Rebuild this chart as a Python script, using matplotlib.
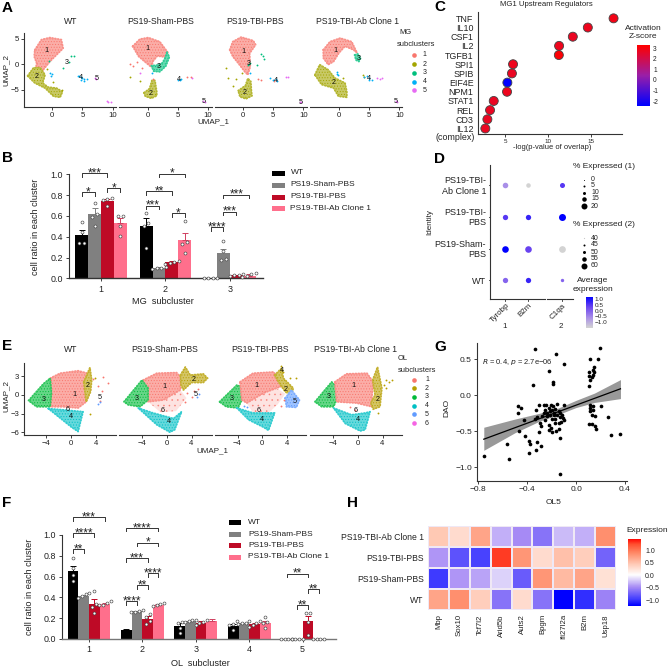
import numpy as np
import matplotlib
matplotlib.use('Agg')
import matplotlib.pyplot as plt
from matplotlib.colors import LinearSegmentedColormap, TwoSlopeNorm, Normalize, to_rgb
from matplotlib.patches import Rectangle

plt.rcParams['font.family'] = ['Liberation Sans', 'DejaVu Sans']
plt.rcParams['hatch.linewidth'] = 0.4

W, H = 669, 667
FS = 6.2
DARK = '#222222'

# ---------- data ----------
group_names = ['WT', 'PS19-Sham-PBS', 'PS19-TBI-PBS', 'PS19-TBI-Ab Clone 1']
bar_colors = ['#000000', '#808080', '#BE0A26', '#FF6F8C']
mg_colors = ['#F8766D', '#A3A500', '#00BF7D', '#00B0F6', '#E76BF3']
ol_colors = ['#F8766D', '#B79F00', '#00BA38', '#00BFC4', '#619CFF', '#F564E3']

# A: MG UMAP, cluster outlines and stray cells
mg_wt = {1: [(-2.9, 2.8), (-1.8, 4.8), (-.4, 5.2), (1.5, 4.8), (1.8, 3.1), (.7, 1.8), (-.4, .5), (-1.5, -1.1), (-2, -2.7), (-2.9, -2.4), (-2.6, .2), (-3, 1.5)],
         2: [(-4.1, -2.3), (-3.1, -.7), (-2, -.7), (-1.2, -2.1), (-1.6, -3.7), (-.7, -4.5), (.7, -4.7), (1.7, -5.4), (1.3, -6.5), (.2, -6.3), (-1.2, -4.7), (-2.9, -3.7)]}
mg_wt_pts = {2: [(-.9, -1), (.1, -3.5), (1.6, -5)], 3: [(3.1, 1.5), (3.6, 1.6), (2.7, .5), (1.7, -.8), (-.5, .7)],
             4: [(4.2, -2.4), (4.5, -2.3), (4.7, -2.6), (5, -2.8), (5.3, -3), (5.7, -2.9), (4.8, -3.2), (5.2, -3.4), (-.1, -2), (-.2, -2.3), (-.4, -1.7)],
             5: [(7.1, -2.8), (7.3, -3), (9, -7.3), (9.3, -7.5), (9.7, -7.4)]}
mg_wt_lab = [(1, -1, 2.7), (2, -2.65, -2.5), (3, 2.4, .3), (4, 4.75, -2.7), (5, 7.35, -2.9)]

mg_sham = {1: [(-2.5, 3.5), (-1.3, 4.9), (.1, 5.2), (2, 4.4), (3.4, 2.2), (2.8, 1.4), (1.6, 1.6), (.9, .6), (.6, -.6), (-.2, .2), (-1.5, 1.5)],
           3: [(3.2, 2.3), (3.6, 1.4), (3, -.4), (2, -1.5), (1, -1.4), (.6, -.3), (1.6, -.2), (2.4, .2), (2.8, 1)],
           2: [(-.6, -5.6), (.3, -4.8), (.7, -3.2), (1.2, -3.2), (1.5, -5.4), (1.5, -6.2), (.6, -6.7), (-.4, -6.3)]}
mg_sham_pts = {1: [(-3, .1), (-2.5, -.3), (-1.7, .4), (-1, -.7), (.9, -3), (6.6, -2.6), (7.1, -2.6)],
               2: [(-2.9, -2.6), (-1.2, -3.4)], 4: [(5, -3.1), (5.3, -3.2), (5.5, -3), (.7, -1.8)],
               5: [(-1.2, -1.7), (7.3, -2.7), (9.1, -7.3), (9.5, -7.4)]}
mg_sham_lab = [(1, -.1, 3.1), (2, .55, -5.8), (3, 1.8, -.5), (4, 5.2, -3.1), (5, 9.3, -7.4)]

mg_tbi = {1: [(-2.2, 2.8), (-1.7, 4.4), (-.3, 5.3), (1.7, 4.6), (2.1, 3.8), (1.1, 2.1), (1.2, -.5), (.8, -2.1), (.3, -1.5), (-.8, .2), (-1.7, 1.5)],
          2: [(-.8, -5.2), (.4, -4.2), (.8, -2.8), (1.3, -3.4), (1.4, -5.4), (1.5, -6.2), (.5, -6.8), (-.5, -6.4)]}
mg_tbi_pts = {1: [(2.5, -3), (3, -3.1), (5.2, -3.4)], 2: [(-2.8, -.8), (-2.5, -2.7), (-1.7, -4.3), (-1.1, -3), (-.2, -1.8)],
              3: [(3.3, 1.5), (3, 2), (3.5, 1), (2.4, -.2), (1, .1), (.8, -.2), (1.2, .3)],
              4: [(4.4, -2.8), (5, -3.2), (5.4, -3), (5.6, -3.4), (1.2, -1.7)], 5: [(7.2, -2.6), (7.4, -2.5), (9.4, -7.4), (9.7, -7.5)]}
mg_tbi_lab = [(1, 0, 2.5), (2, .3, -5.5), (3, 1, .1), (4, 5.4, -3.2), (5, 9.6, -7.5)]

mg_ab = {1: [(-2.6, 2.8), (-1.5, 4.4), (.2, 5.1), (2.1, 4.4), (3, 2.2), (2.4, 2.8), (1, 3.5), (0, 2.2), (-.9, .5), (-1.8, -.1), (-2.6, 1.2)],
         2: [(-4, -2.1), (-3.2, -.1), (-1.8, -1.1), (-.7, -2.7), (1, -3.7), (1.3, -5.4), (1.3, -6.5), (-.1, -6.3), (-.9, -4.7), (-2.9, -4)],
         3: [(2.6, 1.8), (3.1, 2), (3.6, 1.2), (3.3, .5), (2.8, .8)]}
mg_ab_pts = {2: [(4, -2.2), (4.1, -2.5), (.7, -2.7)], 4: [(4.2, -2.6), (4.6, -2.4), (5, -2.8), (5.4, -3.1), (4.9, -3.2), (-.3, -1.5), (-.4, -2), (-.1, -2.2)],
             5: [(6.3, -2.8), (6.8, -2.9), (7.2, -2.7), (9.4, -7.3), (9.7, -7.5)]}
mg_ab_lab = [(1, -.55, 2.7), (2, -.8, -3.6), (3, 3.3, 1.1), (4, 4.9, -2.8), (5, 9.4, -7.3)]

# E: OL UMAP, cluster outlines; "sparse" outlines are drawn fainter
ol_wt = {1: [(-3.4, 2.7), (-1.8, 3.5), (1.1, 3.9), (2.6, 3.5), (3.1, .8), (2.4, -1.1), (1.1, -2.1), (-1.3, -1.9), (-3.4, -1.9)],
         3: [(-6.9, -.9), (-4.5, 1.8), (-3.4, 2.7), (-3.2, .3), (-3.4, -1.9), (-5.6, -1.9)],
         2: [(2, 2.1), (3, 4.4), (3.3, 2.4), (3.1, .5), (2.4, -1.1)],
         4: [(-3.7, -2.2), (-1.3, -2.4), (1.9, -2.7), (1.1, -5.9), (.05, -5.2)]}
ol_wt_pts = {1: [(5.9, 2), (5.1, 2.9), (4.6, -1), (3.5, 2.5), (4.3, 1.5), (5, .6)], 5: [(4.6, -1.2), (4.3, -1.5)], 2: [(3, -3), (3.8, 2.8)]}
ol_wt_lab = [(1, .5, 0), (2, 2.7, 1.5), (3, -4.5, -.7), (4, -.1, -3.5), (5, 4.6, -.4), (6, -.6, -2.4)]

ol_sham = {1: [(-3.8, 2.4), (-1.6, 3.5), (1.6, 3.6), (2.4, 2.7), (2.2, .8), (.8, 0), (-.5, -.8), (-3, -1.1)],
           3: [(-6.9, -1.1), (-4, 2.4), (-3, 1.1), (-3, -.8), (-4.3, -1.9), (-6.2, -1.6)],
           2: [(2.2, 3.2), (3, 4.5), (3.8, 3.2), (5.9, 3.4), (6.6, 2.7), (5.9, 2), (4, 2), (2.7, .8), (2.3, 1.6)],
           4: [(-4.6, -2.1), (-2.2, -2.9), (1.1, -3.8), (2.4, -2.7), (1.3, -5.6), (.5, -6), (-1.6, -4.8)]}
ol_sham_sparse = {1: [(-3, -1.1), (-.5, -.8), (.8, 0), (2.2, .8), (3.2, -.5), (1.5, -2.6), (-1, -2.8)]}
ol_sham_pts = {1: [(3.3, .3), (4, -.4), (4.4, .6), (5, .9), (3, -1.2)], 5: [(4.9, -.3), (5.2, .1)]}
ol_sham_lab = [(1, -.3, 1.4), (2, 4.4, 2.5), (3, -4.9, -.5), (4, .4, -4.3), (5, 4.7, 0), (6, -.6, -2.5)]

ol_tbi = {3: [(-6.9, -1.1), (-4.1, 1.6), (-2.8, 1.1), (-3.3, -.8), (-3.9, -2.1), (-5.8, -1.9)],
          1: [(-3.6, 2.1), (-1.5, 3.5), (1.8, 3.7), (3.7, 1.6), (2.3, 1.1), (.2, .3), (-2.5, -1.3), (-3.3, -.8)],
          2: [(2, 3.2), (3.1, 4.3), (3.4, 2.7), (5, 1.1), (4.7, 0), (3.7, .5), (2.6, 2.1)],
          5: [(3.7, -.5), (4.7, .8), (6, -.8), (5.5, -2), (3.9, -1.9)],
          4: [(-4.1, -2.1), (-1.5, -2.9), (2, -2.9), (1, -5.7), (.2, -5.2), (-2.2, -4)]}
ol_tbi_sparse = {1: [(-2.5, -1.3), (.2, .3), (2.3, 1.1), (3.7, .2), (2.5, -1.5), (1, -2.9), (-1.5, -2.9)]}
ol_tbi_pts = {2: [(3, 4.6), (3.3, 3.7), (5.5, 2.8), (4.5, 2.7), (3.2, 4)], 5: [(-3, -1.8), (-2.5, -1.9)], 1: [(3.5, -.8), (3, -1.8)]}
ol_tbi_lab = [(1, -1, 1.6), (2, 3.8, .9), (3, -5, -.5), (4, 0, -3.9), (5, 5.2, -1.1), (6, -.6, -2.5), (4, 3.1, 4)]

ol_ab = {3: [(-6.9, -1.1), (-4.2, 2.1), (-3.1, 1.1), (-3.4, -.8), (-3.9, -1.9), (-5.8, -1.9)],
         1: [(-3.7, 2.1), (-1.8, 3.4), (1.5, 3.5), (2.5, 2.1), (2.3, -.3), (2.3, -1.9), (-.2, -1.3), (-3.4, -1.1)],
         2: [(2.4, 2.4), (3.2, 4.5), (3.9, 1.1), (3.6, -1.9), (2.5, -2.3), (2.1, -1.3), (2.8, 0)],
         4: [(-3.9, -2.1), (-1, -3.2), (1.2, -2.9), (2, -2.7), (1.2, -5.6), (.4, -5.8), (-2, -4.6)]}
ol_ab_pts = {2: [(4.5, 2.4), (5, 2.1), (5.6, 2.4), (4.2, 1.6), (4.6, 1.2), (3.3, -2.9)], 1: [(-1.3, -2), (-.4, -2.4)]}
ol_ab_lab = [(1, -.7, 1.5), (2, 3.2, -.7), (3, -4.7, -.2), (4, 0, -3.9), (6, -.4, -2.5)]

# B: MG cell ratios, [cluster][group]
mg_means = [[.415, .62, .745, .53], [.50, .10, .155, .37], [0, .24, .03, .025]]
mg_errs = [[.045, .055, .02, .05], [.08, .005, .012, .065], [0, .045, .005, .012]]
mg_dots = [[[.54, .45, .34, .34], [.72, .59, .50, .62], [.77, .76, .75, .695], [.60, .60, .50, .41]],
           [[.63, .53, .50, .29], [.11, .10, .10, .09], [.17, .16, .15, .14], [.55, .35, .33, .24]],
           [[0, 0, 0, 0], [.36, .26, .19, .18], [.02, .03, .04, .03], [.05, .04, .01, .02]]]
# (group, bar, group, bar, level, stars)
mg_brackets = [(0, 0, 0, 2, 1.01, '***'), (0, 0, 0, 1, .827, '*'), (0, 2, 0, 3, .865, '*'),
               (1, 0, 1, 1, .70, '***'), (1, 0, 1, 2, .836, '**'), (1, 1, 1, 3, 1.006, '*'), (1, 2, 1, 3, .625, '*'),
               (2, 0, 2, 1, .49, '****'), (2, 1, 2, 2, .638, '***'), (2, 1, 2, 3, .804, '***')]

# F: OL cell ratios
ol_means = [[.65, .41, .335, .335], [.085, .265, .19, .33], [.125, .17, .155, .17], [.125, .15, .14, .155], [0, 0, .17, 0]]
ol_errs = [[.05, .01, .045, .015], [.015, .005, .03, .005], [.03, .005, .015, .02], [.015, .008, .015, .02], [0, 0, .05, 0]]
ol_dots = [[[.78, .68, .62, .56], [.44, .43, .41, .39], [.46, .34, .31, .25], [.37, .35, .33, .33]],
           [[], [.28, .27, .26, .26], [.24, .21, .17, .14], [.35, .34, .33, .32]],
           [[.16, .15, .11, .06], [.18, .18, .17, .16], [.18, .16, .15, .13], []],
           [[.17, .14, .13, .09], [.17, .15, .15, .14], [.17, .15, .13, .12], [.21, .16, .15, .11]],
           [[0, 0, 0, 0], [0, 0, 0, 0], [.25, .25, .16, .04], [0, 0, 0, 0]]]
ol_brackets = [(0, 0, 0, 3, 1.17, '***'), (0, 0, 0, 2, 1.016, '****'), (0, 0, 0, 1, .862, '**'),
               (1, 0, 1, 3, 1.067, '****'), (1, 1, 1, 3, .926, '*'), (1, 0, 1, 2, .776, '***'),
               (1, 2, 1, 3, .631, '****'), (1, 1, 1, 2, .516, '**'), (1, 0, 1, 1, .362, '****'),
               (4, 0, 4, 2, .628, '**'), (4, 2, 4, 3, .478, '**'), (4, 1, 4, 2, .324, '**')]

# C
reg_names = ['TNF', 'IL10', 'CSF1', 'IL2', 'TGFB1', 'SPI1', 'SPIB', 'EIF4E', 'NPM1', 'STAT1', 'REL', 'CD3', 'IL12']
reg_logp = [17.65, 14.65, 12.9, 11.3, 11.27, 5.93, 5.8, 5.27, 5.23, 3.68, 3.25, 2.94, 2.7]
reg_z = [2.9, 2.8, 2.7, 2.8, 3.2, 2.8, 2.7, -2.4, 2.8, 2.7, 2.7, 2.7, 2.7]

# D
dot_genes = ['Tyrobp', 'B2m', 'C1qa']
dot_rows = ['PS19-TBI-\nAb Clone 1', 'PS19-TBI-\nPBS', 'PS19-Sham-\nPBS', 'WT']
dot_expr = [[-.35, -1.0, .45], [.45, .65, 1.0], [1.0, .35, -1.0], [.05, .65, .05]]
dot_pct = [[16, 12, 53], [15, 15, 60], [20, 20, 59], [15, 15, 47]]
pct_labels_1 = [0, 5, 10, 15, 20]
pct_labels_2 = [40, 45, 50, 55, 60]

# G
ol5 = [-.335, -.166, -.10, -.218, -.355, -.19, -.19, .194, .117, .183, .145, .139, .104, .15, .104, .14, .117, .13, .104,
       .117, .14, .207, .117, .139, .117, .13, .153, .26, .109, .13, .153, .166, .289, .363,
       -.477, -.447, -.477, -.423, -.464, -.415, -.565, -.755, -.548, -.387, -.379, -.319, -.284, -.327, -.385, -.128,
       -.306, -.33, -.32, -.339, -.306, -.265, -.243, -.205, -.189, -.156, -.101, -.251, -.224, -.197, -.17, -.265, -.237,
       -.21, -.183, -.142, -.129, -.115, -.107, -.279, -.237, -.21, -.183, -.156, -.129, -.101, -.123, -.142, -.17, -.292,
       -.287, -.224, -.205, -.224, -.197, -.162, -.142, -.134, -.251, -.197, -.17]
dao = [.64, .574, .43, .343, .143, .185, .162, .657, .505, .505, .394, .356, .324, .324, .264, .287, .218, .25, .125,
       -.134, -.144, -.153, -.176, -.2, -.222, -.28, -.29, -.306, -.394, -.394, -.42, -.463, -.546, -.537,
       -.148, -.171, -.245, -.347, -.5, -.569, -.676, -.847, -.889, -.639, -.676, -.644, -.7, -.764, -.8, -1.097,
       -.138, -.199, -.305, -.324, -.509, -.138, -.129, -.129, -.148, -.12, -.129, -.199, -.175, -.199, -.185, -.245, -.245,
       -.222, -.245, -.222, -.245, -.268, -.314, -.291, -.291, -.277, -.277, -.277, -.305, -.338, -.37, -.384, -.384, -.384,
       -.43, -.416, -.453, -.486, -.509, -.49, -.463, -.592, -.338, -.324, -.324]
fit_x = [-.755, .363]
fit_y = [-.61, .09]
band_x = [-.755, -.5, -.3, -.15, 0, .15, .363]
band_lo = [-.764, -.52, -.36, -.27, -.17, -.10, -.046]
band_hi = [-.444, -.33, -.25, -.18, -.07, .03, .218]

# H
heat_genes = ['Mbp', 'Sox10', 'Tcf7l2', 'Arid5b', 'Auts2', 'Bpgm', 'Ifi27l2a', 'B2m', 'Usp18']
heat_rows = ['PS19-TBI-Ab Clone 1', 'PS19-TBI-PBS', 'PS19-Sham-PBS', 'WT']
heat_vals = [[.45, .3, .7, -.35, -.5, -.65, -.3, -.35, .85],
             [-.45, -.85, -.95, 1.3, .8, .3, .5, .4, -.75],
             [-1.0, -.45, -.4, -.2, -.8, .8, .55, .7, .25],
             [.7, .85, .4, -.65, .3, -.65, -1.25, -1.05, -.55]]

# ---------- helpers ----------
fig = plt.figure(figsize=(W / 100, H / 100), dpi=100)


def px_axes(l, t, r, b):
    return fig.add_axes([l / W, 1 - b / H, (r - l) / W, (b - t) / H])


ov = fig.add_axes([0, 0, 1, 1], zorder=20)
ov.set_xlim(0, W)
ov.set_ylim(H, 0)
ov.axis('off')


def txt(x, y, s, ha='center', va='center', size=FS, **kw):
    kw.setdefault('color', DARK)
    ov.text(x, y, s, ha=ha, va=va, fontsize=size, **kw)


def style(ax, size=5.6):
    for s in ['top', 'right']:
        ax.spines[s].set_visible(False)
    for s in ['left', 'bottom']:
        ax.spines[s].set_linewidth(.8)
        ax.spines[s].set_color('#333333')
    ax.tick_params(labelsize=size, length=2, width=.6, pad=1.5, colors=DARK)
    ax.patch.set_alpha(0)


def umap_panel(box, xlim, ylim, xticks, yticks, colors, shapes, pts, labels, sparse=None, left=False):
    ax = px_axes(*box)
    style(ax)
    for k, poly in (sparse or {}).items():
        ax.fill(*zip(*poly), facecolor=colors[k - 1], alpha=.2, lw=0)
        ax.fill(*zip(*poly), facecolor='none', edgecolor=colors[k - 1], hatch='...', lw=0, alpha=.8)
    for k, poly in shapes.items():
        c = np.array(to_rgb(colors[k - 1]))
        # soft base, stippled cells, dotted rim so the cloud has no hard edge
        ax.fill(*zip(*poly), facecolor=c * .6 + .4, lw=0)
        ax.fill(*zip(*poly), facecolor='none', edgecolor=colors[k - 1], hatch='......', lw=0)
        ax.fill(*zip(*poly), facecolor='none', edgecolor=c * .8 + .2, lw=1.3, linestyle=(0, (.5, 1.1)),
                joinstyle='round', capstyle='round')
    for k, p in pts.items():
        ax.scatter(*zip(*p), s=1.8, color=colors[k - 1], lw=0)
    for k, x, y in labels:
        ax.text(x, y, str(k), fontsize=5.2, ha='center', va='center', color='#111111')
    ax.set_xlim(*xlim)
    ax.set_ylim(*ylim)
    ax.set_xticks(xticks)
    if left:
        ax.set_yticks(yticks)
    else:
        ax.set_yticks([])
        ax.spines['left'].set_visible(False)
    return ax


def spread(vals, step=.07):
    # little beeswarm: neighbours with about the same value sit side by side
    vals = sorted(vals)
    out = []
    i = 0
    while i < len(vals):
        j = i
        while j + 1 < len(vals) and vals[j + 1] - vals[j] < .035:
            j += 1
        n = j - i + 1
        for k in range(n):
            out.append(((k - (n - 1) / 2) * step, vals[i + k]))
        i = j + 1
    return out


def bar_panel(box, xlim, means, errs, dots, brackets, line='#333333'):
    ax = px_axes(*box)
    style(ax, 6.4)
    ax.spines['bottom'].set_color(line)
    ax.spines['bottom'].set_linewidth(1.0)
    offs = [-.3, -.1, .1, .3]
    for g in range(len(means)):
        for b in range(4):
            x = g + offs[b]
            col = bar_colors[b]
            ax.bar(x, means[g][b], width=.2, color=col, lw=0, zorder=2)
            if errs[g][b] > 0:
                ax.errorbar(x, means[g][b], yerr=[[0], [errs[g][b]]], color=col if b != 3 else '#D04060',
                            lw=.7, capsize=2.4, capthick=.7, zorder=3, clip_on=False)
            for dx, v in spread(dots[g][b]):
                ax.scatter(x + dx, v, s=4.5, facecolor='white', edgecolor='#444444', lw=.45, zorder=4, clip_on=False)
    for g1, b1, g2, b2, lev, st in brackets:
        x1, x2 = g1 + offs[b1], g2 + offs[b2]
        ax.plot([x1, x1, x2, x2], [lev - .032, lev, lev, lev - .032], color='#333333', lw=.7, clip_on=False, zorder=5)
        ax.text((x1 + x2) / 2, lev - .028, st, fontsize=8.5, ha='center', va='baseline', color=DARK, clip_on=False)
    ax.set_xlim(*xlim)
    ax.set_ylim(0, 1)
    ax.set_xticks(range(len(means)))
    ax.set_xticklabels([str(i + 1) for i in range(len(means))])
    ax.set_yticks([0, .2, .4, .6, .8, 1])
    ax.set_yticklabels(['0.0', '0.2', '0.4', '0.6', '0.8', '1.0'])
    ax.tick_params(length=2.5, pad=2)
    return ax


# ---------- A ----------
mg_box = [(24, 33, 116, 107), (119, 33, 212, 107), (215, 33, 307, 107), (310, 33, 402, 107)]
mg_zero = [52.3, 147.7, 243, 339]
mg_sets = [(mg_wt, mg_wt_pts, mg_wt_lab), (mg_sham, mg_sham_pts, mg_sham_lab),
           (mg_tbi, mg_tbi_pts, mg_tbi_lab), (mg_ab, mg_ab_pts, mg_ab_lab)]
for i, (box, z, st) in enumerate(zip(mg_box, mg_zero, mg_sets)):
    xl = ((box[0] - z) / 6.03, (box[2] - z) / 6.03)
    umap_panel(box, xl, (-8.4, 6.1), [0, 5, 10], [-5, 0, 5], mg_colors, st[0], st[1], st[2], left=i == 0)
for x, name in zip([71, 161, 255, 357], group_names):
    txt(x, 22, name)
txt(213, 122, 'UMAP_1', size=5.8)
txt(6, 70, 'UMAP_2', size=5.8, rotation=90)
txt(412, 33, 'MG', ha='right', size=5.4)
txt(397, 45, 'subclusters', ha='left', size=5.4)
for k, (y, c) in enumerate(zip([55, 64, 72.7, 81.7, 90.3], mg_colors)):
    ov.scatter(414, y, s=11, color=c, lw=0)
    txt(422.7, y, str(k + 1), ha='left', size=5)

# ---------- B ----------
bar_panel((69, 174.3, 263, 278.3), (-.497, 2.515), mg_means, mg_errs, mg_dots, mg_brackets)
txt(36, 226.7, 'cell ratio in each cluster', rotation=90, size=6.6)
txt(162.7, 302, 'MG  subcluster', size=6.6)
for y, c, name in zip([173, 185, 197, 208], bar_colors, group_names):
    ov.add_patch(Rectangle((272, y - 2.5), 12.5, 5, color=c, lw=0))
    txt(290.5, y, name, ha='left', size=6)

# ---------- C ----------
ax = px_axes(477.7, 12, 621.7, 134)
style(ax)
z_cmap = LinearSegmentedColormap.from_list('z', ['#0000FF', '#9A1FA8', '#FF0000'])
z_norm = Normalize(-2.46, 3.3)
ypos = np.arange(len(reg_names))
ax.scatter(reg_logp, ypos, c=reg_z, cmap=z_cmap, norm=z_norm, s=42, edgecolor='#444444', lw=.6, zorder=3, clip_on=False)
ax.set_xlim(1.81, 18.6)
ax.set_ylim(12.6, -.69)
ax.set_xticks([5, 10, 15])
ax.set_yticks(ypos)
ax.set_yticklabels(reg_names, fontsize=6.4)
ax.tick_params(axis='y', length=0, pad=3)
ax.tick_params(axis='x', labelsize=4.5)
txt(475, 137.7, '(complex)', ha='right', size=6.4)
txt(546, 5, 'MG1 Upstream Regulators', size=5.6)
txt(551.7, 147.7, '-log(p-value of overlap)', size=5.4)
txt(643, 32.5, 'Activation\nZ-score', size=6, linespacing=1.25)
cb = px_axes(636.7, 45, 649, 106)
cb.imshow(np.linspace(3.3, -2.46, 100)[:, None], aspect='auto', cmap=z_cmap, norm=z_norm, extent=[0, 1, -2.46, 3.3])
cb.set_xticks([])
cb.yaxis.tick_right()
cb.set_yticks([3, 2, 1, 0, -1, -2])
cb.set_yticklabels(['3', '2', '1', '0', '-1', '-2'], fontsize=4.8)
cb.tick_params(length=0, pad=3, colors=DARK)
for s in cb.spines.values():
    s.set_visible(False)

# ---------- D ----------
ax = px_axes(490, 165, 573, 299)
style(ax)
d_cmap = LinearSegmentedColormap.from_list('d', ['#D3D3D3', '#A88DE8', '#6A44F0', '#0000FF'])
xd = [505.3, 527.5, 561.5]
yd = [185, 216.7, 248.7, 280.3]
for r in range(4):
    for g in range(3):
        pct = dot_pct[r][g]
        diam = 1.4 + pct / 20 * 5.2 if g < 2 else 1.4 + (pct - 40) / 20 * 5.6
        ov.scatter(xd[g], yd[r], s=(diam * .72) ** 2, color=d_cmap((dot_expr[r][g] + 1) / 2), lw=0)
ax.set_xticks([])
ax.set_yticks([])
ax.spines['bottom'].set_visible(False)
ov.plot([490, 545], [299, 299], color='#333333', lw=.8)
ov.plot([547.3, 573], [299, 299], color='#333333', lw=.8)
for y, name in zip(yd, dot_rows):
    txt(486, y + 1, name, ha='right', size=6.5, linespacing=1.2, multialignment='right')
    ov.plot([488.5, 490], [y, y], color='#333333', lw=.6)
for x, name in zip(xd, dot_genes):
    ov.plot([x, x], [299, 300.5], color='#333333', lw=.6)
    txt(x + 1, 302, name, ha='right', va='top', rotation=45, rotation_mode='anchor', size=5.8)
txt(505, 326, '1', size=5.8)
txt(561, 326, '2', size=5.8)
txt(430, 222, 'Identity', rotation=90, size=5.8)
txt(604, 167, '% Expressed (1)', size=6)
txt(604, 225, '% Expressed (2)', size=6)
for y, lab, d in zip([179.5, 185.5, 192.5, 199, 206], pct_labels_1, [1, 2, 3, 4.5, 6]):
    ov.scatter(584, y, s=(d * .72) ** 2, color='black', lw=0)
    txt(591, y, str(lab), ha='left', size=5)
for y, lab, d in zip([238, 245, 252, 258.5, 265.5], pct_labels_2, [1.2, 2, 3, 4.5, 6]):
    ov.scatter(584, y, s=(d * .72) ** 2, color='#C8C8C8' if lab == 40 else 'black', lw=0)
    txt(591, y, str(lab), ha='left', size=5)
txt(593, 285, 'Average\nexpression', size=6, linespacing=1.25)
cb = px_axes(586, 296.7, 592.7, 328.3)
cb.imshow(np.linspace(1.25, -1.6, 60)[:, None], aspect='auto', cmap=d_cmap, vmin=-1.6, vmax=1.25, extent=[0, 1, -1.6, 1.25])
cb.set_xticks([])
cb.yaxis.tick_right()
cb.set_yticks([1, .5, 0, -.5, -1])
cb.set_yticklabels(['1.0', '0.5', '0.0', '\u22120.5', '\u22121.0'], fontsize=4.6)
cb.tick_params(length=0, pad=1.5, colors=DARK)
for s in cb.spines.values():
    s.set_visible(False)

# ---------- E ----------
ol_box = [(24, 362.7, 116, 435.3), (119, 362.7, 212, 435.3), (215, 362.7, 306, 435.3), (310, 362.7, 402, 435.3)]
ol_zero = [71.3, 166.7, 262.3, 357.7]
ol_sets = [(ol_wt, ol_wt_pts, ol_wt_lab, None), (ol_sham, ol_sham_pts, ol_sham_lab, ol_sham_sparse),
           (ol_tbi, ol_tbi_pts, ol_tbi_lab, ol_tbi_sparse), (ol_ab, ol_ab_pts, ol_ab_lab, None)]
for i, (box, z, st) in enumerate(zip(ol_box, ol_zero, ol_sets)):
    xl = ((box[0] - z) / 6.2, (box[2] - z) / 6.2)
    umap_panel(box, xl, (-6.5, 5.2), [-4, 0, 4], [-6, -3, 0, 3], ol_colors, st[0], st[1], st[2], sparse=st[3], left=i == 0)
for x, name in zip([70.7, 165, 260, 355.7], group_names):
    txt(x, 350, name)
txt(212.7, 451, 'UMAP_1', size=5.8)
txt(6, 396, 'UMAP_2', size=5.8, rotation=90)
txt(398, 359, 'OL', ha='left', size=5.4)
txt(398, 370, 'subclusters', ha='left', size=5.4)
for k, (y, c) in enumerate(zip([379.7, 388.3, 397, 405.7, 414.3, 423.3], ol_colors)):
    ov.scatter(414.3, y, s=11, color=c, lw=0)
    txt(425, y, str(k + 1), ha='left', size=5)

# ---------- F ----------
bar_panel((62.3, 535, 335.7, 639), (-.5, 4.62), ol_means, ol_errs, ol_dots, ol_brackets, line='#777777')
txt(29.3, 586.7, 'cell ratio in each cluster', rotation=90, size=6.6)
txt(200, 663, 'OL  subcluster', size=6.6)
for y, c, name in zip([522.3, 534, 545.3, 557], bar_colors, group_names):
    ov.add_patch(Rectangle((229, y - 2.5), 12, 5, color=c, lw=0))
    txt(248, y, name, ha='left', size=6)

# ---------- G ----------
ax = px_axes(476.7, 342.7, 626.7, 480.7)
style(ax, 6)
ax.fill_between(band_x, band_lo, band_hi, color='#999999', lw=0, zorder=1)
ax.scatter(ol5, dao, s=7, color='black', lw=0, zorder=2)
ax.plot(fit_x, fit_y, color='black', lw=.9, zorder=3)
ax.set_xlim(-.813, .414)
ax.set_ylim(-1.186, .73)
ax.set_xticks([-.8, -.4, 0, .4])
ax.set_xticklabels(['\u22120.8', '\u22120.4', '0.0', '0.4'])
ax.set_yticks([-1, -.5, 0, .5])
ax.set_yticklabels(['\u22121.0', '\u22120.5', '0.0', '0.5'])
txt(481.7, 362, '$R$ = 0.4, $p$ = 2.7e\u221206', ha='left', size=5.4)
txt(553.3, 502.7, 'OL5', size=6)
txt(446.7, 408.3, 'DAO', rotation=90, size=6)

# ---------- H ----------
ax = px_axes(428, 525.7, 616, 610)
h_cmap = LinearSegmentedColormap.from_list('h', [(0, '#0000FF'), (.1, '#3F3BFF'), (.3, '#A78BF5'), (.42, '#DCD2FA'), (.5, '#FFFFFF'),
                                                 (.65, '#FFC9B5'), (.8, '#FF8A68'), (.92, '#FF5030'), (1, '#FF0000')])
h_norm = TwoSlopeNorm(vcenter=0, vmin=-1.25, vmax=1.48)
ax.pcolormesh(np.array(heat_vals), cmap=h_cmap, norm=h_norm, edgecolors='#EFE8F5', linewidth=.15)
ax.set_ylim(4, 0)
ax.set_xticks(np.arange(9) + .5)
ax.set_xticklabels(heat_genes, rotation=90, fontsize=5.6, color=DARK)
ax.set_yticks(np.arange(4) + .5)
ax.set_yticklabels(heat_rows, fontsize=6.2, color=DARK)
ax.tick_params(length=0, pad=3)
for s in ax.spines.values():
    s.set_visible(False)
cb = px_axes(628.3, 538.7, 641, 606.3)
cb.imshow(np.linspace(1.48, -1.25, 100)[:, None], aspect='auto', cmap=h_cmap, norm=h_norm, extent=[0, 1, -1.25, 1.48])
cb.set_xticks([])
cb.yaxis.tick_right()
cb.set_yticks([1, .5, 0, -.5, -1])
cb.set_yticklabels(['1.0', '0.5', '0.0', '\u22120.5', '\u22121.0'], fontsize=5)
cb.tick_params(length=0, pad=3, colors=DARK)
for s in cb.spines.values():
    s.set_visible(False)
txt(647, 531, 'Expression', size=6)

# ---------- panel letters ----------
for s, x, y in [('A', 2, 8), ('B', 2, 158), ('C', 434, 7), ('D', 434, 159), ('E', 2, 346), ('F', 2, 503), ('G', 434, 346.7), ('H', 347, 503)]:
    txt(x, y, s, ha='left', size=11, fontweight='bold', color='black')

fig.savefig('out.png', dpi=100)
